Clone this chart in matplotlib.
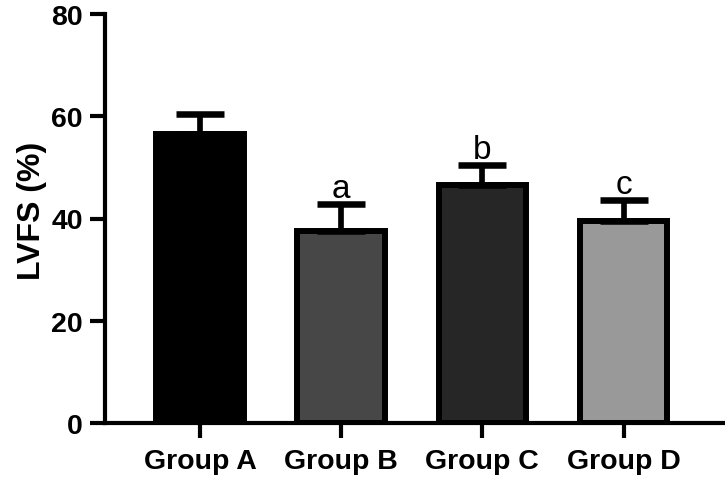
import matplotlib
matplotlib.use("Agg")
import matplotlib.pyplot as plt
import numpy as np

categories = ["Group A", "Group B", "Group C", "Group D"]
means = [56.6, 37.6, 46.6, 39.6]
errors = [3.9, 5.2, 3.9, 4.0]
letters = ["", "a", "b", "c"]
colors = ["#000000", "#474747", "#262626", "#999999"]
yticks = [0, 20, 40, 60, 80]

plt.rcParams['font.family'] = ['Liberation Sans', 'DejaVu Sans']

fig = plt.figure(figsize=(7.25, 4.85), dpi=100)
ax = fig.add_axes([105/725, 61/485, 1 - 105/725, 409/485])

x = np.arange(len(categories))
ax.bar(x, means, width=0.62, color=colors, edgecolor="black", linewidth=4.3, zorder=2)
ax.errorbar(x, means, yerr=[np.zeros(len(errors)), errors], fmt="none",
            ecolor="black", elinewidth=4.1, capsize=17.1, capthick=4.7, zorder=3)

for xi, m, e, lab in zip(x, means, errors, letters):
    if lab:
        ax.text(xi, m + e + 1.4, lab, ha="center", va="baseline", fontsize=24)

ax.set_xlim(-0.673, 3.719)
ax.set_ylim(0, 80)
ax.set_yticks(yticks)
ax.set_xticks(x)
ax.set_xticklabels(categories, fontsize=20.5, fontweight="bold")
ax.set_yticklabels([str(t) for t in yticks], fontsize=20.5, fontweight="bold")
ax.set_ylabel("LVFS (%)", fontsize=23, fontweight="bold")
ax.yaxis.set_label_coords(-0.094, 0.52)

for s in ["top", "right"]:
    ax.spines[s].set_visible(False)
for s in ["left", "bottom"]:
    ax.spines[s].set_linewidth(3)
    ax.spines[s].set_capstyle("projecting")
ax.tick_params(axis="both", width=3, length=11)
ax.tick_params(axis="y", pad=5)
ax.tick_params(axis="x", pad=7)

fig.savefig("out.png", dpi=100)
